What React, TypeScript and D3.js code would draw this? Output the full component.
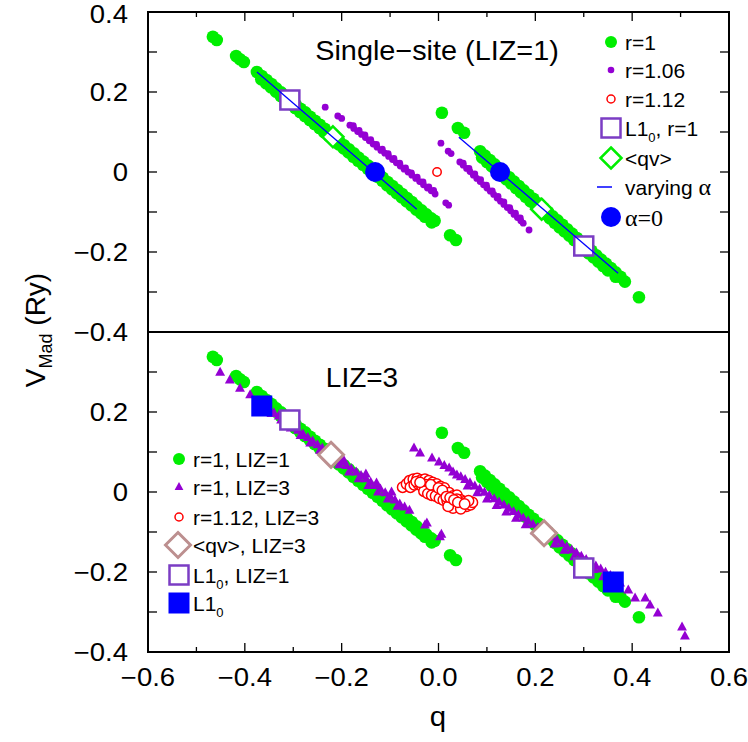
import React from "react";
import * as d3 from "d3";

// ---------- data ----------
const greenR1: [number, number][] = [
  // left branch
  [-0.466, 0.338], [-0.458, 0.330], [-0.418, 0.290], [-0.410, 0.282], [-0.402, 0.275],
  [-0.375, 0.250], [-0.365, 0.240], [-0.355, 0.230], [-0.345, 0.220], [-0.335, 0.209],
  [-0.325, 0.199], [-0.315, 0.190], [-0.305, 0.179], [-0.295, 0.169], [-0.285, 0.158],
  [-0.275, 0.149], [-0.265, 0.138], [-0.255, 0.128], [-0.245, 0.118], [-0.235, 0.108],
  [-0.225, 0.097], [-0.215, 0.088], [-0.205, 0.077], [-0.195, 0.067], [-0.185, 0.057],
  [-0.175, 0.047], [-0.165, 0.036], [-0.155, 0.026], [-0.145, 0.016], [-0.135, 0.006],
  [-0.125, -0.004], [-0.115, -0.014], [-0.105, -0.025], [-0.095, -0.035], [-0.085, -0.045],
  [-0.075, -0.055], [-0.065, -0.065], [-0.055, -0.075], [-0.045, -0.086], [-0.035, -0.096],
  [-0.025, -0.106], [-0.015, -0.116], [-0.008, -0.122],
  [-0.366, 0.232], [-0.356, 0.222], [-0.346, 0.212], [-0.336, 0.201], [-0.326, 0.190],
  [-0.316, 0.180], [-0.306, 0.170], [-0.296, 0.160], [-0.286, 0.150], [-0.276, 0.140],
  [-0.266, 0.130], [-0.256, 0.120], [-0.246, 0.110], [-0.236, 0.099], [-0.226, 0.089],
  [-0.216, 0.079], [-0.206, 0.069], [-0.196, 0.059], [-0.186, 0.049], [-0.176, 0.038],
  [-0.166, 0.028], [-0.156, 0.018], [-0.146, 0.008], [-0.136, -0.002], [-0.126, -0.012],
  [-0.116, -0.022], [-0.106, -0.033], [-0.096, -0.043], [-0.086, -0.053], [-0.076, -0.063],
  [-0.066, -0.073], [-0.056, -0.083], [-0.046, -0.094], [-0.036, -0.103], [-0.028, -0.112],
  [-0.014, -0.126],
  [0.024, -0.158], [0.036, -0.170],
  // right branch
  [0.007, 0.148], [0.040, 0.110], [0.053, 0.098],
  [0.086, 0.052], [0.096, 0.041], [0.106, 0.030], [0.116, 0.019], [0.126, 0.008],
  [0.136, -0.003], [0.146, -0.013], [0.156, -0.024], [0.166, -0.035], [0.176, -0.046],
  [0.186, -0.057], [0.196, -0.067], [0.206, -0.078], [0.216, -0.089], [0.226, -0.100],
  [0.236, -0.111], [0.246, -0.121], [0.256, -0.132], [0.266, -0.143], [0.276, -0.154],
  [0.286, -0.165], [0.296, -0.175], [0.306, -0.186], [0.316, -0.197], [0.326, -0.208],
  [0.336, -0.219], [0.346, -0.229], [0.356, -0.240], [0.366, -0.251], [0.376, -0.262],
  [0.385, -0.274],
  [0.090, 0.036], [0.100, 0.025], [0.110, 0.014], [0.120, 0.003], [0.130, -0.008],
  [0.140, -0.018], [0.150, -0.029], [0.160, -0.040], [0.170, -0.051], [0.180, -0.062],
  [0.190, -0.073], [0.200, -0.083], [0.210, -0.094], [0.220, -0.105], [0.230, -0.116],
  [0.240, -0.127], [0.250, -0.138], [0.260, -0.148], [0.270, -0.159], [0.280, -0.170],
  [0.290, -0.181], [0.300, -0.192], [0.310, -0.203], [0.320, -0.213], [0.330, -0.224],
  [0.340, -0.235], [0.350, -0.246], [0.366, -0.262],
  [0.414, -0.313],
];

const purpleR106: [number, number][] = [
  [-0.234, 0.162], [-0.208, 0.140], [-0.200, 0.134],
  [-0.183, 0.117], [-0.175, 0.109], [-0.167, 0.101], [-0.159, 0.094], [-0.151, 0.086],
  [-0.143, 0.078], [-0.135, 0.070], [-0.127, 0.062], [-0.119, 0.054], [-0.111, 0.047],
  [-0.103, 0.039], [-0.095, 0.031], [-0.087, 0.023], [-0.079, 0.015], [-0.071, 0.007],
  [-0.063, 0.000], [-0.055, -0.008], [-0.047, -0.016], [-0.039, -0.024], [-0.031, -0.032],
  [-0.023, -0.040], [-0.015, -0.047], [-0.007, -0.055],
  [-0.176, 0.116], [-0.164, 0.104], [-0.152, 0.093], [-0.140, 0.081], [-0.128, 0.069],
  [-0.116, 0.057], [-0.104, 0.046], [-0.092, 0.034], [-0.080, 0.022], [-0.068, 0.010],
  [-0.056, -0.002], [-0.044, -0.013], [-0.032, -0.025], [-0.020, -0.037], [-0.010, -0.046],
  [0.015, -0.077], [0.021, -0.083],
  [0.005, 0.072], [0.020, 0.052], [0.026, 0.046],
  [0.044, 0.025], [0.051, 0.017], [0.058, 0.009], [0.065, 0.001], [0.072, -0.008],
  [0.079, -0.016], [0.086, -0.024], [0.093, -0.032], [0.100, -0.040], [0.107, -0.048],
  [0.114, -0.056], [0.121, -0.065], [0.128, -0.073], [0.135, -0.081], [0.142, -0.089],
  [0.149, -0.097], [0.156, -0.106], [0.163, -0.114], [0.170, -0.122], [0.175, -0.128],
  [0.051, 0.022], [0.063, 0.009], [0.075, -0.005], [0.087, -0.019], [0.099, -0.033],
  [0.111, -0.047], [0.123, -0.061], [0.135, -0.075], [0.147, -0.089], [0.159, -0.103],
  [0.169, -0.115],
  [0.187, -0.145],
];

const redR112: [number, number][] = [[-0.003, 0.0]];

const alphaLineLeft: [number, number][] = [[-0.375, 0.25], [-0.045, -0.093]];
const alphaLineRight: [number, number][] = [[0.042, 0.087], [0.371, -0.253]];
const alphaZero: [number, number][] = [[-0.131, 0.0], [0.127, 0.0]];
const l10Top: [number, number][] = [[-0.307, 0.18], [0.3, -0.185]];
const qvTop: [number, number][] = [[-0.218, 0.088], [0.213, -0.093]];

const purpleLIZ3: [number, number][] = [
  [-0.451, 0.299], [-0.431, 0.280], [-0.410, 0.259], [-0.389, 0.243], [-0.372, 0.228],
  [-0.360, 0.215], [-0.350, 0.208], [-0.340, 0.198], [-0.330, 0.190], [-0.320, 0.181],
  [-0.310, 0.172], [-0.300, 0.163], [-0.290, 0.154], [-0.280, 0.145], [-0.270, 0.136],
  [-0.260, 0.127], [-0.250, 0.118], [-0.240, 0.110], [-0.230, 0.101], [-0.220, 0.092],
  [-0.210, 0.083], [-0.200, 0.075], [-0.190, 0.066], [-0.180, 0.058], [-0.170, 0.050],
  [-0.160, 0.041], [-0.150, 0.033], [-0.140, 0.024], [-0.130, 0.016], [-0.120, 0.007],
  [-0.110, -0.002], [-0.100, -0.011], [-0.090, -0.020], [-0.080, -0.030], [-0.070, -0.038],
  [-0.060, -0.046],
  [-0.345, 0.196], [-0.325, 0.180], [-0.305, 0.160], [-0.285, 0.141], [-0.265, 0.122],
  [-0.245, 0.104], [-0.225, 0.086], [-0.205, 0.068], [-0.185, 0.050], [-0.165, 0.033],
  [-0.145, 0.016], [-0.125, 0.000], [-0.105, -0.018], [-0.085, -0.036],
  [-0.196, 0.080], [-0.150, 0.045], [-0.128, 0.022], [-0.097, 0.000],
  [-0.028, -0.083], [-0.024, -0.078], [0.003, -0.112], [0.006, -0.106],
  [-0.0506, 0.110], [-0.038, 0.0975], [-0.0134, 0.085], [0.001, 0.075], [0.012, 0.066],
  [0.022, 0.060], [0.030, 0.050], [0.038, 0.0425],
  [0.046, 0.038], [0.055, 0.031], [0.065, 0.023], [0.075, 0.015], [0.085, 0.007],
  [0.095, -0.001], [0.105, -0.009], [0.115, -0.017], [0.125, -0.025], [0.135, -0.033],
  [0.145, -0.041], [0.155, -0.049], [0.165, -0.057], [0.175, -0.065], [0.185, -0.073],
  [0.195, -0.081], [0.205, -0.089], [0.215, -0.097], [0.225, -0.105], [0.235, -0.113],
  [0.245, -0.121], [0.255, -0.129], [0.265, -0.137], [0.275, -0.145], [0.285, -0.153],
  [0.295, -0.161], [0.305, -0.169], [0.315, -0.177], [0.325, -0.185], [0.335, -0.193],
  [0.345, -0.201], [0.355, -0.209],
  [0.060, 0.015], [0.080, -0.002], [0.100, -0.018], [0.120, -0.034], [0.140, -0.050],
  [0.160, -0.066], [0.180, -0.082], [0.200, -0.098], [0.220, -0.114], [0.240, -0.130],
  [0.260, -0.146], [0.280, -0.162], [0.300, -0.178], [0.320, -0.194], [0.340, -0.212],
  [0.361, -0.2125], [0.375, -0.228], [0.392, -0.245], [0.406, -0.265], [0.427, -0.265],
  [0.437, -0.2825], [0.453, -0.3025], [0.503, -0.3375], [0.509, -0.360],
];

const redLIZ3: [number, number][] = [
  [-0.074, 0.012], [-0.066, 0.020], [-0.060, 0.028], [-0.052, 0.032], [-0.044, 0.034],
  [-0.036, 0.030], [-0.028, 0.032], [-0.020, 0.028], [-0.012, 0.024], [-0.004, 0.020],
  [0.004, 0.014], [0.012, 0.010],
  [-0.058, 0.012], [-0.050, 0.018], [-0.042, 0.020], [-0.034, 0.014], [-0.026, 0.018],
  [-0.018, 0.010], [-0.010, 0.006], [-0.002, 0.002], [0.006, -0.002], [0.014, -0.006],
  [0.022, -0.002], [0.030, -0.010], [0.038, -0.008],
  [-0.030, 0.002], [-0.022, -0.004], [-0.014, -0.008], [-0.006, -0.010], [0.002, -0.016],
  [0.010, -0.020], [0.018, -0.022], [0.026, -0.026], [0.034, -0.030], [0.042, -0.032],
  [0.050, -0.034], [0.058, -0.036], [0.066, -0.032], [0.070, -0.026], [0.046, -0.020],
  [0.054, -0.024], [0.062, -0.022], [0.038, -0.018], [0.030, -0.040], [0.046, -0.042],
  [0.020, -0.036],
  [-0.046, 0.026], [-0.038, 0.024], [-0.016, 0.018], [0.000, 0.010], [0.008, 0.004],
  [0.016, -0.012], [0.024, -0.014], [0.032, -0.020], [0.040, -0.026], [0.054, -0.030],
];

const qvLIZ3: [number, number][] = [[-0.222, 0.093], [0.218, -0.103]];
const l10LIZ1: [number, number][] = [[-0.307, 0.18], [0.3, -0.19]];
const l10Filled: [number, number][] = [[-0.365, 0.215], [0.361, -0.225]];

const xTickValues = [-0.6, -0.4, -0.2, 0.0, 0.2, 0.4, 0.6];
const xTickLabels = ["−0.6", "−0.4", "−0.2", "0.0", "0.2", "0.4", "0.6"];
const yTickValues = [0.4, 0.2, 0, -0.2, -0.4];
const yTickLabels = ["0.4", "0.2", "0", "−0.2", "−0.4"];

// ---------- styles ----------
const GREEN = "#00ee00";
const VIOLET = "#9400d3";
const SQPURPLE = "#7b3dc4";
const RED = "#ff0000";
const BLUE = "#0000ff";
const BROWN = "#bc8f8f";
const FONT = "'Liberation Sans', Arial, sans-serif";
const SERIF = "'Liberation Serif', 'Times New Roman', serif";

const W = 748, H = 742;
const L = 148, R = 729;
const T1 = 12, M = 332, B2 = 652;

const x = d3.scaleLinear().domain([-0.6, 0.6]).range([L, R]);
const yTop = d3.scaleLinear().domain([-0.4, 0.4]).range([M, T1]);
const yBot = d3.scaleLinear().domain([-0.4, 0.4]).range([B2, M]);

const tri = (cx: number, cy: number, s: number) =>
  `M${cx},${cy - s * 0.62} L${cx + s * 0.55},${cy + s * 0.38} L${cx - s * 0.55},${cy + s * 0.38} Z`;
const diamond = (cx: number, cy: number, h: number) =>
  `M${cx},${cy - h} L${cx + h},${cy} L${cx},${cy + h} L${cx - h},${cy} Z`;

function SText({ x: tx, y: ty, sx = 1.1, anchor = "start", size = 25, children, family = FONT }: any) {
  return (
    <text transform={`translate(${tx},${ty}) scale(${sx},1)`} textAnchor={anchor} dy="0.36em"
      fontFamily={family} fontSize={size} fill="#000">
      {children}
    </text>
  );
}

function Axes({ y0, y1, yScale, top, bottom }: any) {
  const minorX = d3.range(-6, 7).map((i) => i / 10);
  const yMinor = d3.range(-4, 5).map((i) => i / 10);
  return (
    <g>
      {yMinor.map((v) => (
        <g key={"y" + v}>
          <line x1={L} x2={L + 9} y1={yScale(v)} y2={yScale(v)} stroke="#000" strokeWidth={1.3} />
          <line x1={R} x2={R - 9} y1={yScale(v)} y2={yScale(v)} stroke="#000" strokeWidth={1.3} />
        </g>
      ))}
      {minorX.map((v, i) => {
        const len = i % 2 === 0 ? 9 : 5;
        return (
          <g key={"x" + v}>
            {top && <line x1={x(v)} x2={x(v)} y1={y0} y2={y0 + len} stroke="#000" strokeWidth={1.3} />}
            {bottom && <line x1={x(v)} x2={x(v)} y1={y1} y2={y1 - len} stroke="#000" strokeWidth={1.3} />}
          </g>
        );
      })}
      <rect x={L} y={y0} width={R - L} height={y1 - y0} fill="none" stroke="#000" strokeWidth={2} />
    </g>
  );
}

export default function App() {
  const circles = (data: [number, number][], ys: any, r: number, fill: string, stroke = "none", sw = 0) =>
    data.map((d, i) => (
      <circle key={i} cx={x(d[0])} cy={ys(d[1])} r={r} fill={fill} stroke={stroke} strokeWidth={sw} />
    ));
  const line = d3.line<[number, number]>().x((d) => x(d[0]));

  const legTop = [42, 70, 99, 128, 158, 187, 217];
  const legBot = [459, 487, 517, 545, 575, 603];
  const lx = 611, ltx = 625;
  const bx = 179, btx = 193;

  return (
    <svg width={W} height={H} style={{ position: "absolute", left: 0, top: 0, background: "#fff" }}>
      <rect x={0} y={0} width={W} height={H} fill="#fff" />
      {/* top panel data */}
      <g>
        {circles(greenR1, yTop, 6.3, GREEN)}
        {circles(purpleR106, yTop, 3.4, VIOLET)}
        {circles(redR112, yTop, 4.2, "#fff", RED, 1.5)}
        {l10Top.map((d, i) => (
          <rect key={i} x={x(d[0]) - 9.5} y={yTop(d[1]) - 9.5} width={19} height={19} fill="#fff" stroke={SQPURPLE} strokeWidth={2.5} />
        ))}
        {qvTop.map((d, i) => (
          <path key={i} d={diamond(x(d[0]), yTop(d[1]), 10.5)} fill="#fff" stroke={GREEN} strokeWidth={2.5} />
        ))}
        <path d={line.y((d) => yTop(d[1]))(alphaLineLeft) || ""} stroke={BLUE} strokeWidth={1.3} fill="none" />
        <path d={line.y((d) => yTop(d[1]))(alphaLineRight) || ""} stroke={BLUE} strokeWidth={1.3} fill="none" />
        {circles(alphaZero, yTop, 10, BLUE)}
      </g>
      {/* bottom panel data */}
      <g>
        {circles(greenR1, yBot, 6.3, GREEN)}
        {purpleLIZ3.map((d, i) => (
          <path key={i} d={tri(x(d[0]), yBot(d[1]), 9)} fill={VIOLET} />
        ))}
        {circles(redLIZ3, yBot, 5.2, "#fff", RED, 1.5)}
        {qvLIZ3.map((d, i) => (
          <path key={i} d={diamond(x(d[0]), yBot(d[1]), 12.5)} fill="#fff" stroke={BROWN} strokeWidth={3} />
        ))}
        {l10LIZ1.map((d, i) => (
          <rect key={i} x={x(d[0]) - 9.5} y={yBot(d[1]) - 9.5} width={19} height={19} fill="#fff" stroke={SQPURPLE} strokeWidth={2.5} />
        ))}
        {l10Filled.map((d, i) => (
          <rect key={i} x={x(d[0]) - 10.5} y={yBot(d[1]) - 10.5} width={21} height={21} fill={BLUE} />
        ))}
      </g>

      <Axes y0={T1} y1={M} yScale={yTop} top={true} bottom={false} />
      <Axes y0={M} y1={B2} yScale={yBot} top={false} bottom={true} />

      {/* tick labels */}
      {yTickValues.map((v, i) => (
        <SText key={"t" + i} x={128} y={Math.max(yTop(v), 14)} anchor="end">{yTickLabels[i]}</SText>
      ))}
      {yTickValues.slice(1).map((v, i) => (
        <SText key={"b" + i} x={128} y={yBot(v)} anchor="end">{yTickLabels[i + 1]}</SText>
      ))}
      {xTickValues.map((v, i) => (
        <SText key={"x" + i} x={x(v)} y={677} anchor="middle">{xTickLabels[i]}</SText>
      ))}

      {/* axis labels */}
      <SText x={438} y={716} anchor="middle" size={28} sx={1.05}>q</SText>
      <text transform="translate(45,330) rotate(-90)" textAnchor="middle" fontFamily={FONT} fontSize={28}>
        V<tspan fontSize={18} dy={7}>Mad</tspan><tspan dy={-7}> (Ry)</tspan>
      </text>

      {/* panel titles */}
      <SText x={437} y={50} anchor="middle" size={28} sx={1.03}>Single−site (LIZ=1)</SText>
      <SText x={362} y={377} anchor="middle" size={28} sx={1.0}>LIZ=3</SText>

      {/* top legend */}
      <g fontFamily={FONT} fontSize={21}>
        <circle cx={lx} cy={legTop[0]} r={6} fill={GREEN} />
        <text x={ltx} y={legTop[0]} dy="0.36em">r=1</text>
        <circle cx={lx} cy={legTop[1]} r={3.3} fill={VIOLET} />
        <text x={ltx} y={legTop[1]} dy="0.36em">r=1.06</text>
        <circle cx={lx} cy={legTop[2]} r={4} fill="#fff" stroke={RED} strokeWidth={1.5} />
        <text x={ltx} y={legTop[2]} dy="0.36em">r=1.12</text>
        <rect x={lx - 9.5} y={legTop[3] - 9.5} width={19} height={19} fill="#fff" stroke={SQPURPLE} strokeWidth={2.5} />
        <text x={ltx} y={legTop[3]} dy="0.36em">L1<tspan fontSize={13} dy={6}>0</tspan><tspan dy={-6}>, r=1</tspan></text>
        <path d={diamond(lx, legTop[4], 10.5)} fill="#fff" stroke={GREEN} strokeWidth={2.5} />
        <text x={ltx} y={legTop[4]} dy="0.36em">&lt;qv&gt;</text>
        <line x1={597} x2={612} y1={legTop[5]} y2={legTop[5]} stroke={BLUE} strokeWidth={1.5} />
        <text x={ltx} y={legTop[5]} dy="0.36em">varying <tspan fontFamily={SERIF} fontSize={24}>α</tspan></text>
        <circle cx={lx} cy={legTop[6]} r={10} fill={BLUE} />
        <text x={ltx} y={legTop[6]} dy="0.36em" fontFamily={SERIF} fontSize={24}>α=0</text>
      </g>

      {/* bottom legend */}
      <g fontFamily={FONT} fontSize={21}>
        <circle cx={bx} cy={legBot[0]} r={6} fill={GREEN} />
        <text x={btx} y={legBot[0]} dy="0.36em">r=1, LIZ=1</text>
        <path d={tri(bx, legBot[1], 8)} fill={VIOLET} />
        <text x={btx} y={legBot[1]} dy="0.36em">r=1, LIZ=3</text>
        <circle cx={bx} cy={legBot[2]} r={4} fill="#fff" stroke={RED} strokeWidth={1.5} />
        <text x={btx} y={legBot[2]} dy="0.36em">r=1.12, LIZ=3</text>
        <path d={diamond(bx - 1, legBot[3], 12.5)} fill="#fff" stroke={BROWN} strokeWidth={3} />
        <text x={btx} y={legBot[3]} dy="0.36em">&lt;qv&gt;, LIZ=3</text>
        <rect x={bx - 9.5} y={legBot[4] - 9.5} width={19} height={19} fill="#fff" stroke={SQPURPLE} strokeWidth={2.5} />
        <text x={btx} y={legBot[4]} dy="0.36em">L1<tspan fontSize={13} dy={6}>0</tspan><tspan dy={-6}>, LIZ=1</tspan></text>
        <rect x={bx - 10.5} y={legBot[5] - 10.5} width={21} height={21} fill={BLUE} />
        <text x={btx} y={legBot[5]} dy="0.36em">L1<tspan fontSize={13} dy={6}>0</tspan></text>
      </g>
    </svg>
  );
}
